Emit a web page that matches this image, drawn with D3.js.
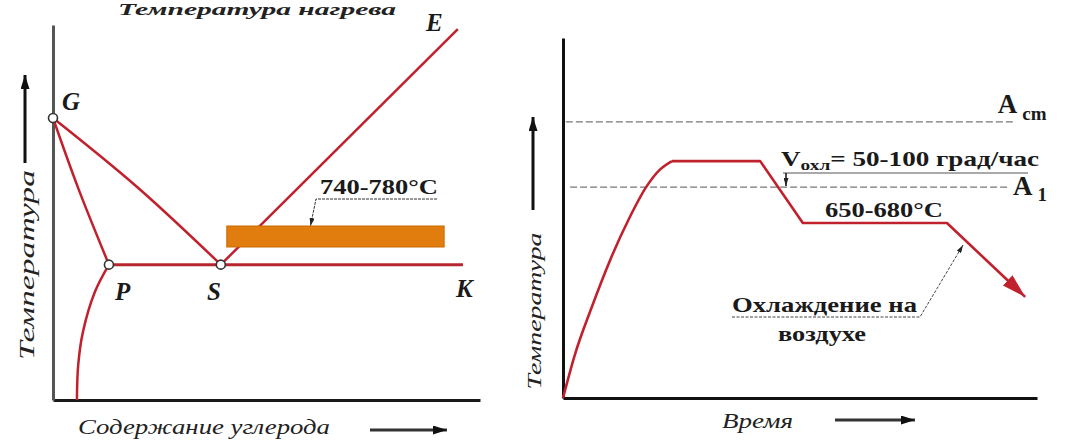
<!DOCTYPE html>
<html>
<head>
<meta charset="utf-8">
<script src="https://cdn.jsdelivr.net/npm/d3@7"></script>
<style>
    body { margin: 0; background: #fff; }
    svg { display: block; font-family: "Liberation Serif", "Times New Roman", "DejaVu Serif", serif; }
</style>
</head>
<body>
<div id="chart"></div>
<script>

// --- left panel: part of Fe-C diagram (relative units 0..100) ---
var pointNames = ["G", "P", "S"];
var pointsX = [0, 13.1, 39.3];
var pointsY = [75.2, 36.1, 36.1];

var lineGP = [[0, 75.2], [5.9, 56.5], [13.1, 36.1]];
var lineGS = [[0, 75.2], [19.7, 56.8], [39.3, 36.1]];
var lineSE = [[39.3, 36.1], [94.8, 98.9]];
var linePK = [[13.1, 36.1], [96, 36.1]];
var lineP0 = [[13.1, 36.1], [9.8, 28.8], [7.0, 18.1], [5.9, 9.3], [5.6, 0]];

// annealing band 740-780 C
var bandX = [40.7, 91.6];
var bandY = [40.8, 46.4];

// --- right panel: time / temperature (relative units 0..100) ---
var heatCurve = [[0, 0], [2.5, 12], [6, 25], [10, 38.5], [14, 50],
    [17.5, 58.5], [20.5, 63.5], [23.0, 65.8]];
var holdCurve = [[23.0, 65.8], [41.6, 65.8], [50.6, 48.6], [81.0, 48.6], [97.5, 28.1]];

var critNames = ["cm", "1"];
var critLevels = [76.7, 58.6];
var critStart = [0.6, 1.5];
var critEnd = [94.9, 94.3];

var W = 1066, H = 442;
var red = "#c1202d";

var svg = d3.select("#chart").append("svg")
    .attr("width", W)
    .attr("height", H);

var defs = svg.append("defs");

function marker(id, len, wid, color) {
    defs.append("marker")
        .attr("id", id)
        .attr("markerUnits", "userSpaceOnUse")
        .attr("markerWidth", len)
        .attr("markerHeight", wid)
        .attr("viewBox", "0 0 " + len + " " + wid)
        .attr("refX", len)
        .attr("refY", wid / 2)
        .attr("orient", "auto")
        .append("path")
        .attr("d", "M0,0L" + len + "," + (wid / 2) + "L0," + wid + "Z")
        .attr("fill", color);
}
marker("arrBlack", 14, 9, "#111");
marker("arrSmall", 8, 5, "#222");
marker("arrRed", 24, 14, red);

var xL = d3.scaleLinear().domain([0, 100]).range([53, 480]);
var yL = d3.scaleLinear().domain([0, 100]).range([400, 25]);
var xR = d3.scaleLinear().domain([0, 100]).range([563, 1037]);
var yR = d3.scaleLinear().domain([0, 100]).range([398, 38]);

var lineLeft = d3.line().x(d => xL(d[0])).y(d => yL(d[1]));
var curveLeft = d3.line().x(d => xL(d[0])).y(d => yL(d[1])).curve(d3.curveCatmullRom);
var lineRight = d3.line().x(d => xR(d[0])).y(d => yR(d[1]));
var curveRight = d3.line().x(d => xR(d[0])).y(d => yR(d[1])).curve(d3.curveMonotoneX);

// axes (no ticks)
function axis(sel, color) {
    sel.select(".domain").attr("stroke", color).attr("stroke-width", 3);
}
svg.append("g")
    .attr("transform", "translate(0," + yL(0) + ")")
    .call(d3.axisBottom(xL).tickValues([]).tickSizeOuter(0))
    .call(axis, "#1a1a1a");
svg.append("g")
    .attr("transform", "translate(" + xL(0) + ",0)")
    .call(d3.axisLeft(yL).tickValues([]).tickSizeOuter(0))
    .call(axis, "#555");
svg.append("g")
    .attr("transform", "translate(0," + yR(0) + ")")
    .call(d3.axisBottom(xR).tickValues([]).tickSizeOuter(0))
    .call(axis, "#111");
svg.append("g")
    .attr("transform", "translate(" + xR(0) + ",0)")
    .call(d3.axisLeft(yR).tickValues([]).tickSizeOuter(0))
    .call(axis, "#111");

// left panel
var gl = svg.append("g");

gl.append("path")
    .attr("d", lineLeft(lineSE))
    .attr("fill", "none")
    .attr("stroke", red)
    .attr("stroke-width", 2.5);

gl.append("rect")
    .attr("x", xL(bandX[0]))
    .attr("y", yL(bandY[1]))
    .attr("width", xL(bandX[1]) - xL(bandX[0]))
    .attr("height", yL(bandY[0]) - yL(bandY[1]))
    .attr("fill", "#e17d0e")
    .attr("stroke", "#c96a05")
    .attr("stroke-width", 1);

[lineGP, lineGS, lineP0].forEach(function (d) {
    gl.append("path")
        .attr("d", curveLeft(d))
        .attr("fill", "none")
        .attr("stroke", red)
        .attr("stroke-width", 2.5);
});
gl.append("path")
    .attr("d", lineLeft(linePK))
    .attr("fill", "none")
    .attr("stroke", "#b5262f")
    .attr("stroke-width", 3);

gl.selectAll("circle")
    .data(pointNames)
    .join("circle")
    .attr("cx", (d, i) => xL(pointsX[i]))
    .attr("cy", (d, i) => yL(pointsY[i]))
    .attr("r", 4.5)
    .attr("fill", "#fff")
    .attr("stroke", "#333")
    .attr("stroke-width", 1.6);

var letterStyle = function (t) {
    t.attr("font-size", 25)
        .attr("font-weight", "bold")
        .attr("font-style", "italic")
        .attr("fill", "#1a1a1a");
};
gl.append("text").text("G").attr("x", 62).attr("y", 110).call(letterStyle);
gl.append("text").text("P").attr("x", 115).attr("y", 300).call(letterStyle);
gl.append("text").text("S").attr("x", 207).attr("y", 300).call(letterStyle);
gl.append("text").text("K").attr("x", 456).attr("y", 297).call(letterStyle);
gl.append("text").text("E").attr("x", 426).attr("y", 31).call(letterStyle);

// band label with leader
gl.append("text")
    .text("740-780°C")
    .attr("x", 320).attr("y", 194)
    .attr("font-size", 21)
    .attr("font-weight", "bold")
    .attr("textLength", 118)
    .attr("lengthAdjust", "spacingAndGlyphs")
    .attr("fill", "#1a1a1a");
gl.append("path")
    .attr("d", "M437,199H316L" + xL(60.3) + "," + yL(bandY[1]))
    .attr("fill", "none")
    .attr("stroke", "#333")
    .attr("stroke-width", 1)
    .attr("stroke-dasharray", "3,1")
    .attr("marker-end", "url(#arrSmall)");

// top title (at the picture edge)
gl.append("text")
    .text("Температура нагрева")
    .attr("x", 257).attr("y", 15)
    .attr("text-anchor", "middle")
    .attr("font-size", 16)
    .attr("font-style", "italic")
    .attr("font-weight", "bold")
    .attr("textLength", 278)
    .attr("lengthAdjust", "spacingAndGlyphs")
    .attr("fill", "#222");

gl.append("text")
    .text("Температура")
    .attr("transform", "translate(34,265) rotate(-90)")
    .attr("text-anchor", "middle")
    .attr("font-size", 21)
    .attr("font-style", "italic")
    .attr("textLength", 190)
    .attr("lengthAdjust", "spacingAndGlyphs")
    .attr("fill", "#222");
gl.append("line")
    .attr("x1", 25).attr("y1", 163).attr("x2", 25).attr("y2", 75)
    .attr("stroke", "#111").attr("stroke-width", 3)
    .attr("marker-end", "url(#arrBlack)");

gl.append("text")
    .text("Содержание углерода")
    .attr("x", 78).attr("y", 434)
    .attr("font-size", 21)
    .attr("font-style", "italic")
    .attr("textLength", 252)
    .attr("lengthAdjust", "spacingAndGlyphs")
    .attr("fill", "#222");
gl.append("line")
    .attr("x1", 370).attr("y1", 430).attr("x2", 447).attr("y2", 430)
    .attr("stroke", "#333").attr("stroke-width", 3)
    .attr("marker-end", "url(#arrBlack)");

// right panel
var gr = svg.append("g");

gr.selectAll("line.crit")
    .data(critLevels)
    .join("line")
    .attr("class", "crit")
    .attr("x1", (d, i) => xR(critStart[i]))
    .attr("x2", (d, i) => xR(critEnd[i]))
    .attr("y1", d => yR(d))
    .attr("y2", d => yR(d))
    .attr("stroke", "#777")
    .attr("stroke-width", 1.3)
    .attr("stroke-dasharray", "7,3");

gr.selectAll("text.crit")
    .data(critLevels)
    .join("text")
    .attr("class", "crit")
    .attr("x", (d, i) => xR(critEnd[i]) + (i === 0 ? -15 : 3))
    .attr("y", (d, i) => yR(d) + (i === 0 ? -9 : 8))
    .attr("font-size", 27)
    .attr("font-weight", "bold")
    .attr("fill", "#1a1a1a")
    .each(function (d, i) {
        var t = d3.select(this);
        t.append("tspan").text("A");
        t.append("tspan").text(critNames[i])
            .attr("font-size", 19)
            .attr("dx", 5)
            .attr("dy", i === 0 ? 7 : 6);
    });

gr.append("path")
    .attr("d", curveRight(heatCurve))
    .attr("fill", "none")
    .attr("stroke", red)
    .attr("stroke-width", 2.6);
gr.append("path")
    .attr("d", lineRight(holdCurve))
    .attr("fill", "none")
    .attr("stroke", red)
    .attr("stroke-width", 2.6)
    .attr("stroke-linejoin", "round")
    .attr("marker-end", "url(#arrRed)");

var boldText = function (t, size) {
    t.attr("font-size", size)
        .attr("font-weight", "bold")
        .attr("fill", "#1a1a1a");
};

// cooling rate label
var vt = gr.append("text")
    .attr("x", 781).attr("y", 166)
    .attr("textLength", 258)
    .attr("lengthAdjust", "spacingAndGlyphs")
    .call(boldText, 21);
vt.append("tspan").text("V");
vt.append("tspan").text("охл").attr("font-size", 15).attr("dy", 4);
vt.append("tspan").text("= 50-100 град/час").attr("dy", -4);
gr.append("line")
    .attr("x1", 783).attr("y1", 173).attr("x2", 1028).attr("y2", 173)
    .attr("stroke", "#555").attr("stroke-width", 1);
gr.append("line")
    .attr("x1", 786).attr("y1", 173).attr("x2", 786).attr("y2", 186)
    .attr("stroke", "#111").attr("stroke-width", 1.5)
    .attr("marker-end", "url(#arrSmall)");

gr.append("text")
    .text("650-680°C")
    .attr("x", 825).attr("y", 217)
    .attr("textLength", 118)
    .attr("lengthAdjust", "spacingAndGlyphs")
    .call(boldText, 20);

gr.append("text")
    .text("Охлаждение на")
    .attr("x", 732).attr("y", 312)
    .attr("textLength", 185)
    .attr("lengthAdjust", "spacingAndGlyphs")
    .call(boldText, 21);
gr.append("text")
    .text("воздухе")
    .attr("x", 822).attr("y", 341)
    .attr("text-anchor", "middle")
    .attr("textLength", 88)
    .attr("lengthAdjust", "spacingAndGlyphs")
    .call(boldText, 21);
gr.append("path")
    .attr("d", "M732,317H920L" + xR(84.4) + "," + yR(42.5))
    .attr("fill", "none")
    .attr("stroke", "#444")
    .attr("stroke-width", 1)
    .attr("stroke-dasharray", "3,1.5")
    .attr("marker-end", "url(#arrSmall)");

gr.append("text")
    .text("Температура")
    .attr("transform", "translate(541,311) rotate(-90)")
    .attr("text-anchor", "middle")
    .attr("font-size", 19)
    .attr("font-style", "italic")
    .attr("textLength", 157)
    .attr("lengthAdjust", "spacingAndGlyphs")
    .attr("fill", "#222");
gr.append("line")
    .attr("x1", 533).attr("y1", 210).attr("x2", 533).attr("y2", 117)
    .attr("stroke", "#111").attr("stroke-width", 3)
    .attr("marker-end", "url(#arrBlack)");

gr.append("text")
    .text("Время")
    .attr("x", 722).attr("y", 428)
    .attr("font-size", 20)
    .attr("font-style", "italic")
    .attr("textLength", 71)
    .attr("lengthAdjust", "spacingAndGlyphs")
    .attr("fill", "#222");
gr.append("line")
    .attr("x1", 835).attr("y1", 420).attr("x2", 915).attr("y2", 420)
    .attr("stroke", "#333").attr("stroke-width", 3)
    .attr("marker-end", "url(#arrBlack)");

</script>
</body>
</html>
